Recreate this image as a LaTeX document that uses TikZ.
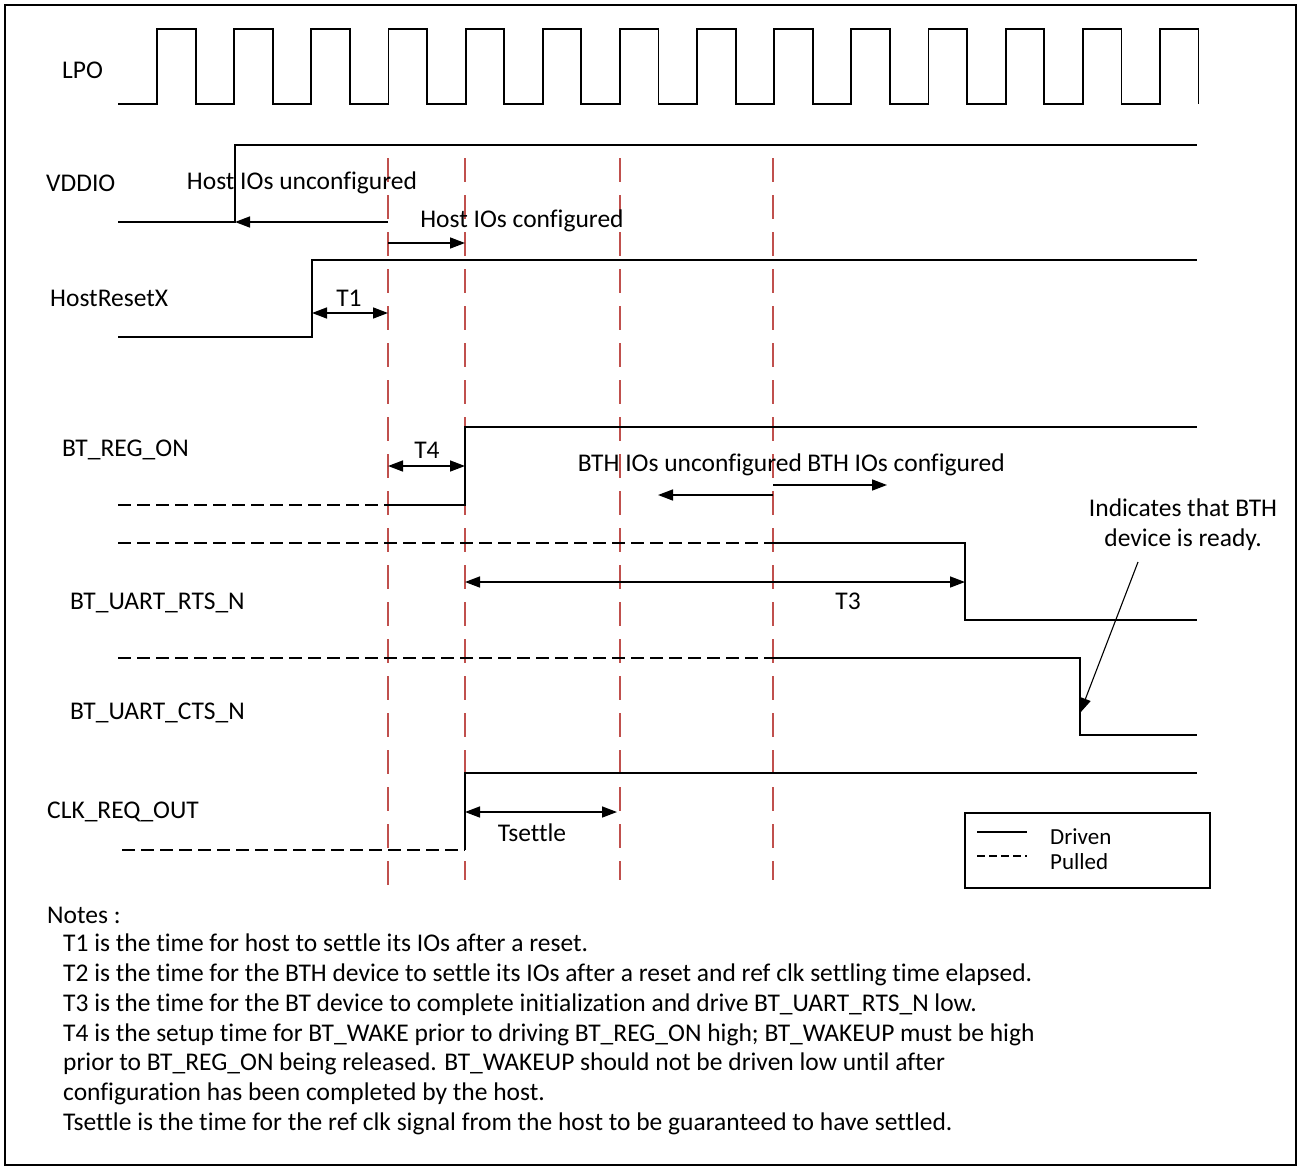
\documentclass[tikz,border=0pt]{standalone}
\usepackage{fontspec}
\setmainfont{Carlito}[Ligatures=NoCommon]
\usetikzlibrary{arrows.meta}
\newdimen\unitsize
\setlength{\unitsize}{1pt}
\definecolor{markred}{RGB}{192,80,77}

\begin{document}
\begin{tikzpicture}[x=\unitsize,y=-\unitsize]
\tikzset{sig/.style={line width=1.8pt}}%
\tikzset{pulled/.style={line width=2.8pt, dash pattern=on 13pt off 6pt}}%
\tikzset{tmark/.style={markred, line width=2.2pt, dash pattern=on 24pt off 13pt}}%
\tikzset{tip/.style={line width=1.5pt, -{Triangle[length=15pt,width=11pt]}}}%
\tikzset{both/.style={line width=1.5pt, {Triangle[length=15pt,width=11pt]}-{Triangle[length=15pt,width=11pt]}}}%
\tikzset{lbl/.style={font=\fontsize{25.5}{30}\selectfont, inner sep=0pt}}%
\useasboundingbox (0,0) rectangle (1297,1167);
\draw[line width=2pt] (5,5) rectangle (1296,1165);
% signal names
\node[lbl, anchor=west] (lpo) at (62,70) {LPO};
\node[lbl, anchor=west] (vddio) at (46,183) {VDDIO};
\node[lbl, anchor=west] (hostreset) at (50,298) {HostResetX};
\node[lbl, anchor=west] (regon) at (62,450) {BT\_REG\_ON};
\node[lbl, anchor=west] (rts) at (70,603) {BT\_UART\_RTS\_N};
\node[lbl, anchor=west] (cts) at (70,713) {BT\_UART\_CTS\_N};
\node[lbl, anchor=west] (clkreq) at (47,812) {CLK\_REQ\_OUT};
% time markers
\draw[tmark] (388,158) -- (388,885);
\draw[tmark] (465,158) -- (465,880);
\draw[tmark] (620,158) -- (620,880);
\draw[tmark] (773,158) -- (773,880);
% waveforms
\draw[sig] (118,104) \foreach \k in {0,...,13} { -- ({157+77.15*\k},104) -- ++(0,-75) -- ++(38.6,0) -- ++(0,75) };
\draw[sig] (118,222) -- (235,222) -- (235,145) -- (1197,145);
\draw[sig] (118,337) -- (312,337) -- (312,260) -- (1197,260);
\draw[pulled] (118,505) -- (388,505);
\draw[sig] (388,505) -- (465,505) -- (465,427) -- (1197,427);
\draw[pulled] (118,543) -- (773,543);
\draw[sig] (773,543) -- (965,543) -- (965,620) -- (1197,620);
\draw[pulled] (118,658) -- (773,658);
\draw[sig] (773,658) -- (1080,658) -- (1080,735) -- (1197,735);
\draw[pulled] (122,850) -- (465,850);
\draw[sig] (465,850) -- (465,773) -- (1197,773);
% timing labels
\node[lbl] (hostun) at (302,183) {Host IOs unconfigured};
\draw[tip] (388,222) -- (235,222);
\node[lbl] (hostcf) at (522,221) {Host IOs configured};
\draw[tip] (388,243) -- (465,243);
\node[lbl] (tone) at (349,298) {T1};
\draw[both] (312,313) -- (388,313);
\node[lbl] (tfour) at (427,450) {T4};
\draw[both] (388,466) -- (465,466);
\node[lbl] (bthun) at (690,465) {BTH IOs unconfigured};
\node[lbl] (bthcf) at (906,465) {BTH IOs configured};
\draw[tip] (773,495) -- (658,495);
\draw[tip] (773,485) -- (887,485);
\node[lbl] (tthree) at (848,601) {T3};
\draw[both] (465,582) -- (965,582);
\node[lbl] (tsettle) at (532,833) {Tsettle};
\draw[both] (465,812) -- (617,812);
\node[lbl, align=center] (ready) at (1183,525) {Indicates that BTH\\device is ready.};
\coordinate (ctsedge) at (1080,713);
\draw[tip, line width=1.1pt] (1138,562) -- (ctsedge);
% legend
\draw[line width=1.6pt] (965,813) rectangle (1210,888);
\draw[sig] (977,832) -- (1027,832);
\draw[pulled, dash pattern=on 8pt off 4pt] (977,856) -- (1027,856);
\node[lbl, anchor=west, font=\fontsize{23}{26}\selectfont] (driven) at (1050,837) {Driven};
\node[lbl, anchor=west, font=\fontsize{23}{26}\selectfont] (pulledtxt) at (1050,862) {Pulled};
% notes
\node[lbl, anchor=west] (notes) at (47,915) {Notes :};
\node[lbl, anchor=north west, align=left, font=\fontsize{25.5}{29.7}\selectfont] (notetext) at (63,934) {T1 is the time for host to settle its IOs after a reset.\\
T2 is the time for the BTH device to settle its IOs after a reset and ref clk settling time elapsed.\\
T3 is the time for the BT device to complete initialization and drive BT\_UART\_RTS\_N low.\\
T4 is the setup time for BT\_WAKE prior to driving BT\_REG\_ON high; BT\_WAKEUP must be high\\
prior to BT\_REG\_ON being released. BT\_WAKEUP should not be driven low until after\\
configuration has been completed by the host.\\
Tsettle is the time for the ref clk signal from the host to be guaranteed to have settled.};
\end{tikzpicture}
\end{document}
